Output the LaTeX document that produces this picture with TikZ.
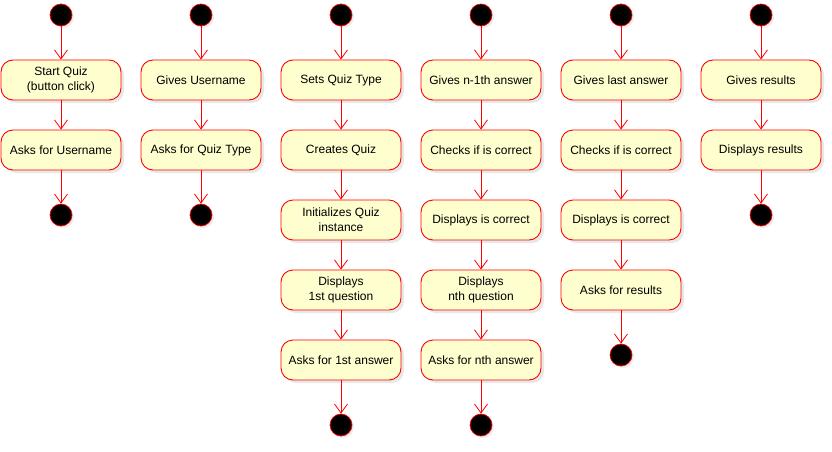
\documentclass[tikz,border=0pt]{standalone}
\usepackage{fontspec}
\setmainfont{Liberation Sans}
\usetikzlibrary{arrows.meta,shadows}
\definecolor{actfill}{HTML}{FEFECE}
\definecolor{actline}{HTML}{FF0000}
\tikzset{
  act/.style={draw=actline, fill=actfill, rounded corners=12pt, minimum width=120pt,
    minimum height=40pt, align=center, font=\fontsize{12}{15}\selectfont,
    line width=0.9pt, inner sep=2pt,
    drop shadow={shadow xshift=3pt, shadow yshift=-3pt, opacity=0.18, fill=gray}},
  dot/.style={circle, fill=black, draw=actline, line width=0.7pt, minimum size=22pt, inner sep=0pt,
    drop shadow={shadow xshift=2pt, shadow yshift=-2pt, opacity=0.15, fill=gray}},
  flow/.style={draw=actline, line width=0.8pt, -{Straight Barb[length=9pt,width=13pt]}}
}
\begin{document}
\begin{tikzpicture}[x=1pt,y=-1pt]
\useasboundingbox (0,0) rectangle (832,452);
% column 1
\node[dot] (s1) at (61,15) {};
\node[act] (a1) at (61,80) {Start Quiz\\(button click)};
\node[act] (b1) at (61,150) {Asks for Username};
\node[dot] (e1) at (61,215) {};
\draw[flow] (s1) -- (a1);
\draw[flow] (a1) -- (b1);
\draw[flow] (b1) -- (e1);
% column 2
\node[dot] (s2) at (201,15) {};
\node[act] (a2) at (201,80) {Gives Username};
\node[act] (b2) at (201,150) {Asks for Quiz Type};
\node[dot] (e2) at (201,215) {};
\draw[flow] (s2) -- (a2);
\draw[flow] (a2) -- (b2);
\draw[flow] (b2) -- (e2);
% column 3
\node[dot] (s3) at (341,15) {};
\node[act] (a3) at (341,80) {Sets Quiz Type};
\node[act] (b3) at (341,150) {Creates Quiz};
\node[act] (c3) at (341,220) {Initializes Quiz\\instance};
\node[act] (d3) at (341,290) {Displays\\1st question};
\node[act] (f3) at (341,360) {Asks for 1st answer};
\node[dot] (e3) at (341,425) {};
\draw[flow] (s3) -- (a3);
\draw[flow] (a3) -- (b3);
\draw[flow] (b3) -- (c3);
\draw[flow] (c3) -- (d3);
\draw[flow] (d3) -- (f3);
\draw[flow] (f3) -- (e3);
% column 4
\node[dot] (s4) at (481,15) {};
\node[act] (a4) at (481,80) {Gives n-1th answer};
\node[act] (b4) at (481,150) {Checks if is correct};
\node[act] (c4) at (481,220) {Displays is correct};
\node[act] (d4) at (481,290) {Displays\\nth question};
\node[act] (f4) at (481,360) {Asks for nth answer};
\node[dot] (e4) at (481,425) {};
\draw[flow] (s4) -- (a4);
\draw[flow] (a4) -- (b4);
\draw[flow] (b4) -- (c4);
\draw[flow] (c4) -- (d4);
\draw[flow] (d4) -- (f4);
\draw[flow] (f4) -- (e4);
% column 5
\node[dot] (s5) at (621,15) {};
\node[act] (a5) at (621,80) {Gives last answer};
\node[act] (b5) at (621,150) {Checks if is correct};
\node[act] (c5) at (621,220) {Displays is correct};
\node[act] (d5) at (621,290) {Asks for results};
\node[dot] (e5) at (621,355) {};
\draw[flow] (s5) -- (a5);
\draw[flow] (a5) -- (b5);
\draw[flow] (b5) -- (c5);
\draw[flow] (c5) -- (d5);
\draw[flow] (d5) -- (e5);
% column 6
\node[dot] (s6) at (761,15) {};
\node[act] (a6) at (761,80) {Gives results};
\node[act] (b6) at (761,150) {Displays results};
\node[dot] (e6) at (761,215) {};
\draw[flow] (s6) -- (a6);
\draw[flow] (a6) -- (b6);
\draw[flow] (b6) -- (e6);
\end{tikzpicture}
\end{document}
